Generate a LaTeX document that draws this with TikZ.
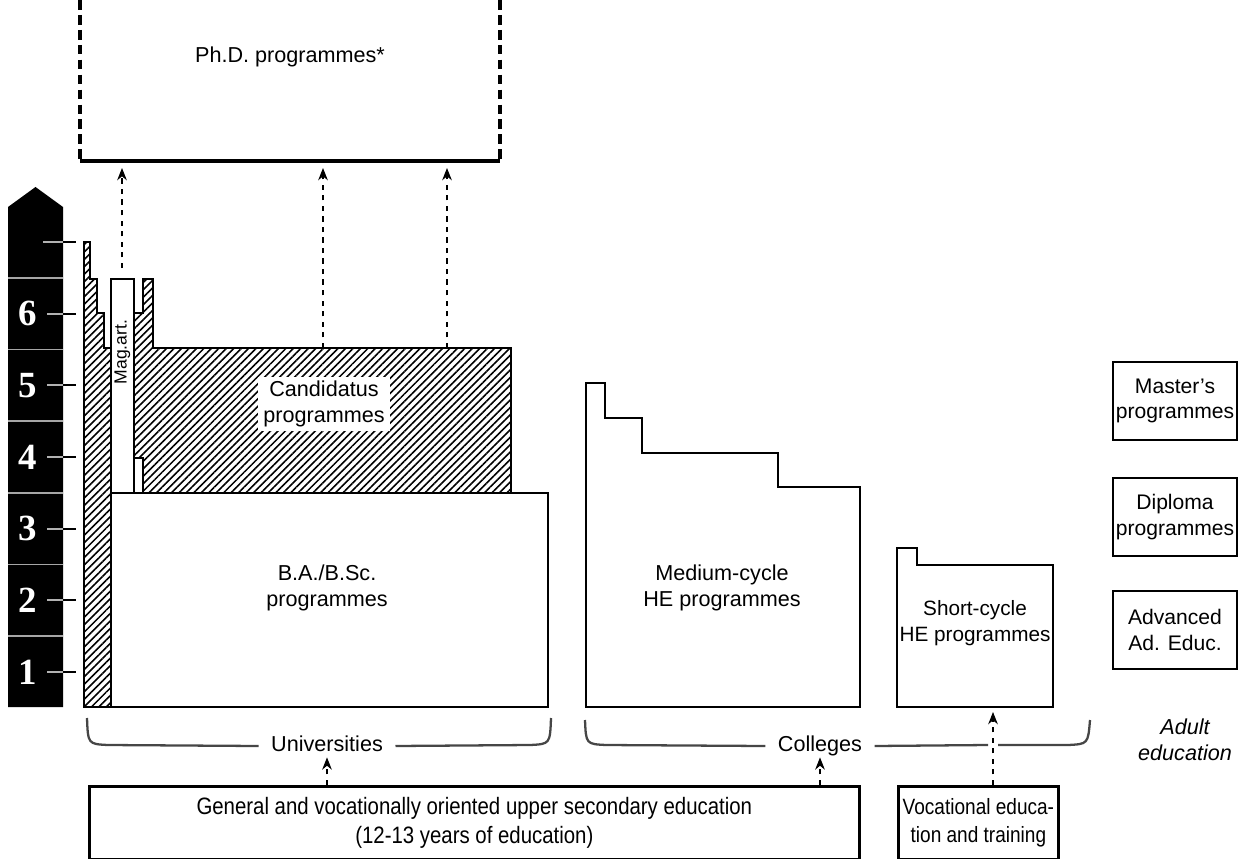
\documentclass[tikz,border=0pt]{standalone}
\usepackage{fontspec}
\setmainfont{Liberation Sans}
\newfontfamily\levelfont{Liberation Serif}
\newfontfamily\narrowfont[FakeStretch=0.86]{Liberation Sans}
\usetikzlibrary{patterns.meta,arrows.meta}

\tikzset{
  block/.style={draw=black, line width=1.6pt, fill=white},
  hatched/.style={draw=black, line width=1.6pt, pattern={Lines[angle=45,distance=3pt,line width=0.9pt]}},
  txt/.style={font=\fontsize{12.3}{14.5}\selectfont, align=center, inner sep=1pt},
  digit/.style={font=\levelfont\bfseries\fontsize{21}{21}\selectfont, text=white, inner sep=0pt},
  flow/.style={dash pattern=on 3pt off 3pt, line width=0.6pt, -{Stealth[length=7pt,width=5.5pt]}},
  brace/.style={draw=gray!55!black, line width=1.3pt},
  bracetxt/.style={txt, inner xsep=7pt, text height=1.6ex, text depth=0.4ex},
  sidebox/.style={draw, line width=1.6pt, minimum width=2.48cm, minimum height=1.56cm, inner sep=0pt, align=center, font=\fontsize{12}{14.5}\selectfont},
  entrybox/.style={draw, line width=1.6pt, minimum height=1.46cm, inner xsep=0pt, align=center, anchor=north west, font=\narrowfont\fontsize{13.5}{16}\selectfont}
}

\begin{document}
\begin{tikzpicture}[x=0.02cm,y=-0.02cm]
\useasboundingbox (0,0) rectangle (1246,858);

% level scale
\fill[black] (8,707) -- (8,207) -- (35.5,187) -- (63,207) -- (63,707) -- cycle;
\foreach \y in {278,349.5,421,493,564.5,636}
  \draw[gray!70, line width=0.8pt] (8,\y) -- (63,\y);
\draw[gray!60, line width=1pt] (43,242) -- (63,242);
\draw[line width=1pt] (63,242) -- (76,242);
\foreach \n/\y in {1/672,2/600.3,3/528.7,4/457,5/385.3,6/313.7}{
  \node[digit] (lvl\n) at (28,\y) {\n};
  \draw[gray!60, line width=1pt] (47,\y) -- (63,\y);
  \draw[line width=1pt] (63,\y) -- (76,\y);
}

% Ph.D.
\draw[line width=1.8pt, dash pattern=on 5.5pt off 3pt] (80,0) -- (80,161);
\draw[line width=1.8pt, dash pattern=on 5.5pt off 3pt] (500,0) -- (500,161);
\draw[line width=1.8pt] (80,161) -- (500,161);
\node[txt] (phd) at (290,57) {Ph.D. programmes*};

% universities
\draw[hatched] (84,707) -- (84,242) -- (90,242) -- (90,279) -- (97,279) -- (97,313)
  -- (104,313) -- (104,348) -- (111,348) -- (111,707) -- cycle;
\draw[hatched] (134,458) -- (134,313) -- (143,313) -- (143,279) -- (153,279) -- (153,348)
  -- (511,348) -- (511,493) -- (143,493) -- (143,458) -- cycle;
\draw[block] (111,493) rectangle (548,707);
\draw[block] (111,279) rectangle (134,493);
\node[txt, rotate=90, font=\fontsize{10}{12}\selectfont] (magart) at (122.5,352) {Mag.art.};
\node[txt, fill=white, inner xsep=3pt, inner ysep=2.5pt] (cand) at (324,404) {Candidatus\\programmes};
\node[txt] (ba) at (327,588) {B.A./B.Sc.\\programmes};

% colleges
\draw[block] (586,707) -- (586,383) -- (605,383) -- (605,418) -- (642,418) -- (642,453)
  -- (778,453) -- (778,487) -- (860,487) -- (860,707) -- cycle;
\node[txt] (medium) at (722,588) {Medium-cycle\\HE programmes};
\draw[block] (897,707) -- (897,548) -- (917,548) -- (917,565) -- (1053,565) -- (1053,707) -- cycle;
\node[txt, font=\fontsize{11.8}{14.5}\selectfont] (short) at (975,623) {Short-cycle\\HE programmes};

% adult education
\node[sidebox] (master) at (1175,401) {Master's\\programmes};
\node[sidebox] (diploma) at (1175,517) {Diploma\\programmes};
\node[sidebox] (advanced) at (1175,630) {Advanced\\Ad. Educ.};
\node[txt, font=\itshape\fontsize{12.3}{14.5}\selectfont] (adult) at (1185,740) {Adult\\education};

% institution braces
\node[bracetxt] (univ) at (327,746) {Universities};
\node[bracetxt] (coll) at (820,746) {Colleges};
\draw[brace] (87,718) .. controls (88,744) .. (108,745) -- (univ.west);
\draw[brace] (univ.east) -- (530,745) .. controls (550,744) .. (551,718);
\draw[brace] (585,720) .. controls (586,744) .. (606,745) -- (coll.west);
\draw[brace] (coll.east) -- (988,745);
\draw[brace] (998,745) -- (1068,745) .. controls (1088,744) .. (1090,720);

% entry
\node[entrybox, minimum width=15.4cm] (upper) at (88,785)
  {General and vocationally oriented upper secondary education\\(12-13 years of education)};
\node[entrybox, minimum width=3.2cm, font=\narrowfont\fontsize{12.6}{16}\selectfont] (voc) at (897,785)
  {Vocational educa-\\tion and training};

% connectors
\coordinate (m1) at (122,268);
\coordinate (p1) at (122,168);
\coordinate (c1) at (323,348);
\coordinate (p2) at (323,168);
\coordinate (c2) at (447,348);
\coordinate (p3) at (447,168);
\draw[flow] (m1) -- (p1);
\draw[flow] (c1) -- (p2);
\draw[flow] (c2) -- (p3);
\draw[flow] (upper.north -| univ.south) -- (univ.south);
\draw[flow] (upper.north -| coll.south) -- (coll.south);
\coordinate (s1) at (993,712);
\draw[flow] (voc.north -| s1) -- (s1);
\end{tikzpicture}
\end{document}
